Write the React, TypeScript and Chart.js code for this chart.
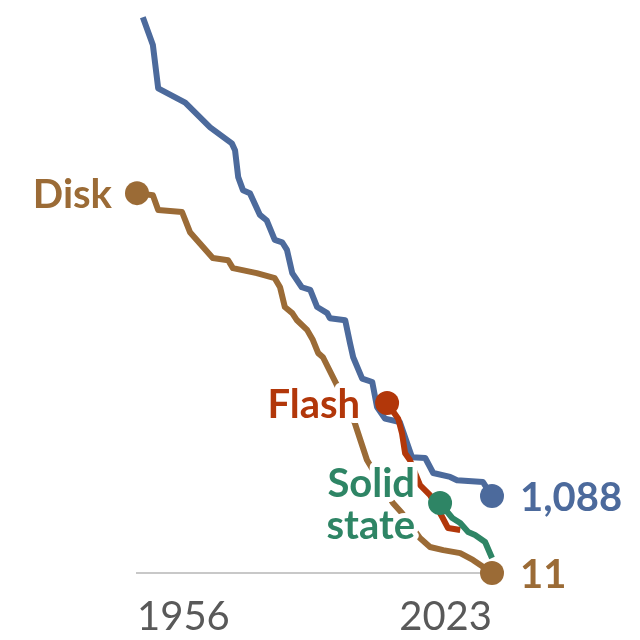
import { useEffect, useRef } from 'react';
import { Chart, registerables } from 'chart.js';

Chart.register(...registerables);

// cost per terabyte, log scale
const memoryYears = [1957.1, 1959, 1960, 1965.1, 1969.8, 1973.9, 1974.5, 1975.1, 1976, 1977.3, 1979.2, 1980.5, 1982, 1983.4, 1984.3, 1985.3, 1987.1, 1988.7, 1990, 1991.9, 1992.4, 1995.3, 1996.2, 1996.8, 1998.5, 2000.4, 2001.3, 2002.8, 2005.6, 2007.9, 2010.4, 2011.9, 2015.1, 2016.4, 2021.3, 2023];
const memoryCost = [2.8e15, 5.3e14, 4.0e13, 1.7e13, 3.9e12, 1.5e12, 1.0e12, 2.0e11, 9.2e10, 7.7e10, 2.1e10, 1.5e10, 4.7e9, 4.1e9, 2.6e9, 6.5e8, 2.8e8, 2.4e8, 8.6e7, 6.0e7, 4.4e7, 3.9e7, 1.0e7, 4.3e6, 1.2e6, 9.8e5, 2.2e5, 1.1e5, 9.0e4, 1.1e4, 1.05e4, 4.3e3, 3.4e3, 2.8e3, 2.5e3, 1088];

const diskYears = [1956, 1959, 1960, 1964.5, 1966, 1970.3, 1973.2, 1974.1, 1978.6, 1982, 1983, 1983.9, 1985.3, 1986.2, 1988.1, 1989.2, 1990.2, 1991.1, 1993.9, 1997.1, 1999.4, 2004.3, 2006, 2009.4, 2011.3, 2013.8, 2017, 2019.4, 2021.3, 2023];
const diskCost = [7.7e10, 6.8e10, 2.8e10, 2.5e10, 7.5e9, 1.6e9, 1.4e9, 8.8e8, 6.5e8, 4.8e8, 2.8e8, 8.6e7, 6.0e7, 3.9e7, 2.2e7, 1.2e7, 5.5e6, 4.3e6, 7.3e5, 8.5e4, 9.3e3, 715, 394, 89, 52, 43, 36, 24, 16, 11];

const flashYears = [2003.2, 2005.3, 2006, 2006.6, 2007.5, 2009.4, 2011.3, 2013.6, 2014.7, 2017];
const flashCost = [2.8e5, 1.1e5, 4.7e4, 1.4e4, 9.3e3, 2.1e3, 1150, 310, 161, 143];

const solidYears = [2013.2, 2015.5, 2017, 2018.5, 2019.8, 2021.7, 2023];
const solidCost = [715, 293, 217, 127, 106, 70, 27];

const xTicks = [1956, 2023];

const FONT = 'Lato, "Open Sans", sans-serif';
const BLUE = '#4c6a9c';
const BROWN = '#9b6b36';
const RED = '#b2370a';
const GREEN = '#2e8565';

const pts = (xs: number[], ys: number[]) => xs.map((x, i) => ({ x, y: ys[i] }));

type Label = { lines: string[]; at: 'first' | 'last'; side: 'left' | 'right'; gap: number };

const labelPlugin = {
  id: 'seriesLabels',
  afterDatasetsDraw(chart: any) {
    const ctx = chart.ctx as CanvasRenderingContext2D;
    ctx.save();
    ctx.textBaseline = 'middle';
    ctx.lineJoin = 'round';
    ctx.font = `bold 40px ${FONT}`;
    chart.data.datasets.forEach((ds: any, i: number) => {
      const meta = chart.getDatasetMeta(i);
      (ds.labels as Label[]).forEach((l) => {
        const el = l.at === 'first' ? meta.data[0] : meta.data[meta.data.length - 1];
        ctx.textAlign = l.side === 'left' ? 'right' : 'left';
        const x = l.side === 'left' ? el.x - l.gap : el.x + l.gap;
        const lh = 42;
        const y0 = el.y - ((l.lines.length - 1) * lh) / 2 + 2;
        l.lines.forEach((t, k) => {
          ctx.strokeStyle = '#fff';
          ctx.lineWidth = 10;
          ctx.strokeText(t, x, y0 + k * lh);
          ctx.fillStyle = ds.borderColor;
          ctx.fillText(t, x, y0 + k * lh);
        });
      });
    });
    ctx.restore();
  },
};

const dotAt = (which: ('first' | 'last')[]) => (c: any) => {
  const n = c.dataset.data.length;
  if (which.includes('first') && c.dataIndex === 0) return 12;
  if (which.includes('last') && c.dataIndex === n - 1) return 12;
  return 0;
};

const line = (label: string, data: any[], color: string, order: number, dots: ('first' | 'last')[], labels: Label[]) => ({
  label,
  data,
  borderColor: color,
  backgroundColor: color,
  borderWidth: 6,
  borderJoinStyle: 'round' as const,
  pointRadius: dotAt(dots),
  pointHoverRadius: dotAt(dots),
  pointBorderWidth: 0,
  tension: 0,
  clip: false as const,
  order,
  labels,
});

const App = () => {
  const chartRef = useRef<HTMLCanvasElement | null>(null);

  useEffect(() => {
    const chart = new Chart(chartRef.current!.getContext('2d')!, {
      type: 'line',
      data: {
        datasets: [
          line('Disk', pts(diskYears, diskCost), BROWN, 4, ['first', 'last'], [
            { lines: ['Disk'], at: 'first', side: 'left', gap: 25 },
            { lines: ['11'], at: 'last', side: 'right', gap: 28 },
          ]),
          line('Memory', pts(memoryYears, memoryCost), BLUE, 3, ['last'], [
            { lines: ['1,088'], at: 'last', side: 'right', gap: 28 },
          ]),
          line('Flash', pts(flashYears, flashCost), RED, 2, ['first'], [
            { lines: ['Flash'], at: 'first', side: 'left', gap: 27 },
          ]),
          line('Solid state', pts(solidYears, solidCost), GREEN, 1, ['first'], [
            { lines: ['Solid', 'state'], at: 'first', side: 'left', gap: 25 },
          ]),
        ] as any,
      },
      options: {
        animation: false,
        responsive: false,
        events: [],
        layout: { padding: { left: 137, right: 148, top: 16, bottom: 0 } },
        plugins: { legend: { display: false }, tooltip: { enabled: false } },
        scales: {
          x: {
            type: 'linear',
            min: xTicks[0],
            max: xTicks[xTicks.length - 1],
            afterBuildTicks: (axis: any) => {
              axis.ticks = xTicks.map((v) => ({ value: v }));
            },
            afterFit: (axis: any) => {
              axis.height = 67;
            },
            grid: { display: false },
            border: { display: true, color: '#c8c8c8', width: 2 },
            ticks: {
              align: 'inner',
              padding: 12,
              color: '#595959',
              font: { family: FONT, size: 40 },
              callback: (v: any) => String(v),
            },
          },
          y: {
            type: 'logarithmic',
            min: 11,
            max: 3e15,
            display: false,
          },
        },
      },
      plugins: [labelPlugin],
    });
    return () => {
      chart.destroy();
    };
  }, []);

  return (
    <div style={{ position: 'absolute', left: 0, top: 0, width: 640, height: 640, background: '#fff' }}>
      <canvas ref={chartRef} width={640} height={640} />
    </div>
  );
};

export default App;
